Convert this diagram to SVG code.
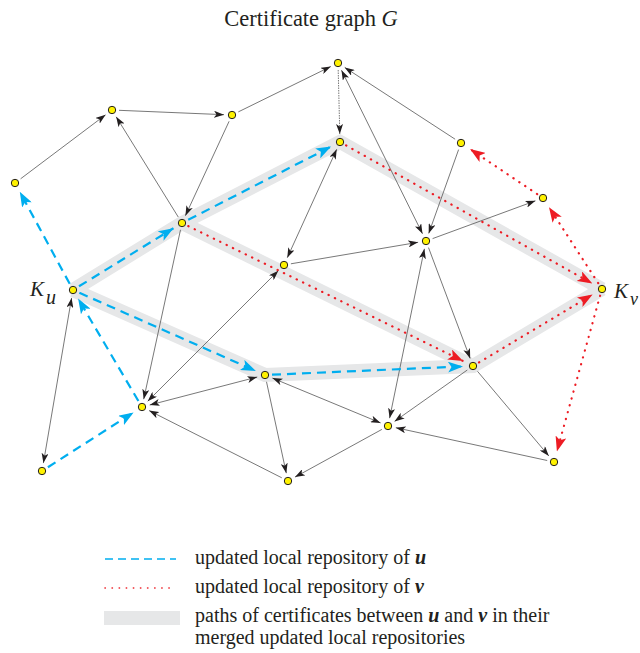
<svg xmlns="http://www.w3.org/2000/svg" width="640" height="653" viewBox="0 0 640 653">
<defs>
<style>
.e{fill:none;stroke:#555;stroke-width:0.8;marker-end:url(#ab)}
.d{marker-start:url(#ab)}
.b{fill:none;stroke:#00aeef;stroke-width:2.2;stroke-dasharray:9 6;marker-end:url(#ac)}
.r{fill:none;stroke:#ed1c24;stroke-width:2.2;stroke-linecap:round;stroke-dasharray:0.3 6.8;marker-end:url(#ar)}
.band{fill:none;stroke:#e6e7e8;stroke-width:14;stroke-linejoin:miter}
.n{fill:#fff200;stroke:#231f20;stroke-width:1}
.t{font-family:"Liberation Serif","Times New Roman",serif;fill:#231f20}
</style>
<marker id="ab" viewBox="0 0 10 7" markerWidth="10" markerHeight="7" refX="10" refY="3.5" orient="auto-start-reverse" markerUnits="userSpaceOnUse"><path d="M0,0 L10,3.5 L0,7 L2.5,3.5 z" fill="#231f20"/></marker>
<marker id="ac" viewBox="0 0 15 11" markerWidth="15" markerHeight="11" refX="15" refY="5.5" orient="auto" markerUnits="userSpaceOnUse"><path d="M0,0 L15,5.5 L0,11 L3.5,5.5 z" fill="#00aeef"/></marker>
<marker id="ar" viewBox="0 0 15 11" markerWidth="15" markerHeight="11" refX="15" refY="5.5" orient="auto" markerUnits="userSpaceOnUse"><path d="M0,0 L15,5.5 L0,11 L3.5,5.5 z" fill="#ed1c24"/></marker>
</defs>
<rect width="640" height="653" fill="#fff"/>
<text class="t" x="311" y="26" font-size="22.5" text-anchor="middle">Certificate graph <tspan font-style="italic">G</tspan></text>

<g id="bands">
<polyline class="band" points="73,290 182,223 340,142 602,289"/>
<polyline class="band" points="73,290 265,375 473,366 602,289"/>
<polyline class="band" points="182,223 473,366"/>
</g>

<g id="connectors">
<path class="e" d="M20.6,178.8 L105.6,114.8"/>
<path class="e" d="M119,110.3 L224,114.7"/>
<path class="e" d="M178.3,217.1 L116.2,116.8"/>
<path class="e" d="M229.1,121.3 L185.4,215.7"/>
<path class="e" d="M238.3,111.9 L330.8,66.5"/>
<path class="e" d="M338.2,70 L339.8,134" stroke-dasharray="1.5 1"/>
<path class="e" d="M455.1,139.2 L344.7,67.4"/>
<path class="e d" d="M341.5,70.2 L422.5,233.8"/>
<path class="e" d="M458.6,149.6 L428.7,233.5"/>
<path class="e" d="M432.6,238.6 L535.5,200.8"/>
<path class="e" d="M290.9,263.8 L418.1,242.3"/>
<path class="e d" d="M336.7,149.3 L287.3,257.7"/>
<path class="e d" d="M278.3,270.7 L147.7,401.3"/>
<path class="e" d="M180.5,229.8 L143.7,399.2"/>
<path class="e d" d="M257.3,377 L149.7,405"/>
<path class="e" d="M281.8,477.8 L149.1,410.6"/>
<path class="e d" d="M71.6,297.9 L43.4,463.1"/>
<path class="e d" d="M272.4,378.1 L380.6,422.9"/>
<path class="e" d="M266.5,381.8 L286.3,473.2"/>
<path class="e" d="M381.9,429.4 L295,477.1"/>
<path class="e d" d="M424.4,248.8 L389.6,418.2"/>
<path class="e" d="M467.3,370 L394.5,421.4"/>
<path class="e" d="M547.2,460.5 L395.8,427.7"/>
<path class="e" d="M477.5,371.3 L548.8,455.9"/>
<path class="e" d="M428.5,247.6 L470.2,358.5"/>

<path class="b" d="M69.7,283.8 L19.8,191.8"/>
<path class="b" d="M79,286.3 L173.5,228.2"/>
<path class="b" d="M188.2,219.8 L331.1,146.6"/>
<path class="b" d="M79.4,292.8 L255.9,371"/>
<path class="b" d="M272,374.7 L463,366.4"/>
<path class="b" d="M138.4,401 L78.1,298.6"/>
<path class="b" d="M47.9,467.2 L133.6,412.4"/>

<path class="r" d="M188.3,226.1 L463.1,361.1"/>
<path class="r" d="M346.1,145.4 L592.4,283.6"/>
<path class="r" d="M479,362.4 L592.6,294.6"/>
<path class="r" d="M598.2,283.1 L549,207.2"/>
<path class="r" d="M537.2,194.1 L470.1,149.1"/>
<path class="r" d="M600.1,295.7 L556.9,451.4"/>
</g>

<g id="A"><circle class="n" cx="15" cy="183" r="3.7"/></g>
<g id="B"><circle class="n" cx="112" cy="110" r="3.7"/></g>
<g id="C"><circle class="n" cx="232" cy="115" r="3.7"/></g>
<g id="D"><circle class="n" cx="338" cy="63" r="3.7"/></g>
<g id="E"><circle class="n" cx="340" cy="142" r="3.7"/></g>
<g id="F"><circle class="n" cx="461" cy="143" r="3.7"/></g>
<g id="G"><circle class="n" cx="543" cy="198" r="3.7"/></g>
<g id="H"><circle class="n" cx="182" cy="223" r="3.7"/></g>
<g id="I"><circle class="n" cx="426" cy="241" r="3.7"/></g>
<g id="J"><circle class="n" cx="284" cy="265" r="3.7"/></g>
<g id="Ku"><circle class="n" cx="73" cy="290" r="3.7"/><text class="t" x="30" y="296" font-size="21" font-style="italic">K</text><text class="t" x="46" y="304" font-size="20" font-style="italic">u</text></g>
<g id="Kv"><circle class="n" cx="602" cy="289" r="3.7"/><text class="t" x="614" y="298" font-size="21" font-style="italic">K</text><text class="t" x="630" y="305" font-size="18" font-style="italic">v</text></g>
<g id="L"><circle class="n" cx="265" cy="375" r="3.7"/></g>
<g id="M"><circle class="n" cx="473" cy="366" r="3.7"/></g>
<g id="N"><circle class="n" cx="142" cy="407" r="3.7"/></g>
<g id="O"><circle class="n" cx="388" cy="426" r="3.7"/></g>
<g id="P"><circle class="n" cx="42" cy="471" r="3.7"/></g>
<g id="Q"><circle class="n" cx="288" cy="481" r="3.7"/></g>
<g id="R"><circle class="n" cx="554" cy="462" r="3.7"/></g>

<g id="legend">
<line x1="105" y1="559" x2="176" y2="559" stroke="#00aeef" stroke-width="1.6" stroke-dasharray="8 5"/>
<line x1="105" y1="588" x2="176" y2="588" stroke="#ed1c24" stroke-width="1.6" stroke-linecap="round" stroke-dasharray="0.3 6.8"/>
<rect x="104" y="611" width="76" height="14" fill="#e6e7e8"/>
<text class="t" x="195" y="564" font-size="20">updated local repository of <tspan font-weight="bold" font-style="italic">u</tspan></text>
<text class="t" x="195" y="593" font-size="20">updated local repository of <tspan font-weight="bold" font-style="italic">v</tspan></text>
<text class="t" x="195" y="622" font-size="20">paths of certificates between <tspan font-weight="bold" font-style="italic">u</tspan> and <tspan font-weight="bold" font-style="italic">v</tspan> in their</text>
<text class="t" x="195" y="644" font-size="20">merged updated local repositories</text>
</g>
</svg>
